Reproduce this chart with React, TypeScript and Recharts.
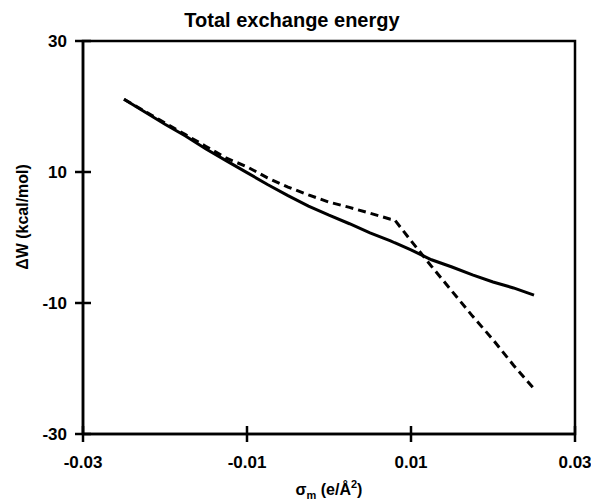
import React from 'react';
import { LineChart, Line, XAxis, YAxis, ReferenceArea } from 'recharts';

const sigma = [-0.025, -0.0225, -0.02, -0.0175, -0.015, -0.0125, -0.01, -0.0075, -0.005, -0.0025, 0, 0.0025, 0.005, 0.0075, 0.008, 0.01, 0.0125, 0.015, 0.0175, 0.02, 0.0225, 0.025];
const solidW = [21.1, 19.2, 17.3, 15.5, 13.5, 11.7, 9.9, 8.1, 6.4, 4.8, 3.4, 2.1, 0.7, -0.5, -0.8, -1.9, -3.4, -4.5, -5.7, -6.8, -7.7, -8.8];
const dashedW = [21.1, 19.3, 17.5, 15.7, 13.9, 12.1, 10.8, 9.1, 7.7, 6.5, 5.4, 4.6, 3.7, 2.8, 2.7, -0.5, -4.4, -8.2, -12.0, -15.6, -19.5, -23.1];
const xTicks = [-0.03, -0.01, 0.01, 0.03];
const yTicks = [-30, -10, 10, 30];

const data = sigma.map((s, i) => ({ x: s, solid: solidW[i], dashed: dashedW[i] }));

const FONT = '"Liberation Sans", Arial, Helvetica, sans-serif';
const Y_AXIS_W = 60;
const X_AXIS_H = 40;

const renderYTick = (props: any) => {
  const { y, payload } = props;
  const ax = 83;
  return (
    <g key={`yt-${payload.value}`}>
      <line x1={ax - 8} x2={ax + 8} y1={y} y2={y} stroke="#000" strokeWidth={2.5} />
      <text x={ax - 16} y={y} dy={6} textAnchor="end" fontFamily={FONT} fontWeight="bold" fontSize={17} fill="#000">
        {String(payload.value)}
      </text>
    </g>
  );
};

const renderXTick = (props: any) => {
  const { x, payload } = props;
  const ay = 434;
  return (
    <g key={`xt-${payload.value}`}>
      <line x1={x} x2={x} y1={ay - 8} y2={ay + 8} stroke="#000" strokeWidth={2.5} />
      <text x={x} y={ay + 34} textAnchor="middle" fontFamily={FONT} fontWeight="bold" fontSize={17} fill="#000">
        {Number(payload.value).toFixed(2)}
      </text>
    </g>
  );
};

export default function App() {
  return (
    <div style={{ position: 'absolute', left: 0, top: 0, width: 591, height: 500, background: '#fff' }}>
      <LineChart width={591} height={500} data={data} margin={{ top: 41, right: 16, bottom: 66 - X_AXIS_H, left: 83 - Y_AXIS_W }}>
        <XAxis
          dataKey="x"
          type="number"
          domain={[-0.03, 0.03]}
          ticks={xTicks}
          allowDataOverflow
          height={X_AXIS_H}
          tickLine={false}
          axisLine={{ stroke: '#000', strokeWidth: 2.5 }}
          tick={renderXTick}
          interval={0}
        />
        <YAxis
          type="number"
          domain={[-30, 30]}
          ticks={yTicks}
          allowDataOverflow
          width={Y_AXIS_W}
          tickLine={false}
          axisLine={{ stroke: '#000', strokeWidth: 2.5 }}
          tick={renderYTick}
          interval={0}
        />
        <ReferenceArea x1={-0.03} x2={0.03} y1={-30} y2={30} fill="none" stroke="#000" strokeWidth={2.5} ifOverflow="visible" />
        <Line dataKey="solid" type="linear" stroke="#000" strokeWidth={3} dot={false} isAnimationActive={false} />
        <Line dataKey="dashed" type="linear" stroke="#000" strokeWidth={3} strokeDasharray="8 5" dot={false} isAnimationActive={false} />
      </LineChart>
      <svg width={591} height={500} style={{ position: 'absolute', left: 0, top: 0, pointerEvents: 'none' }}>
        <text x={292} y={27} textAnchor="middle" fontFamily={FONT} fontWeight="bold" fontSize={20} fill="#000">
          Total exchange energy
        </text>
        <text
          transform="translate(28,217) rotate(-90)"
          textAnchor="middle"
          fontFamily={FONT}
          fontWeight="bold"
          fontSize={16}
          fill="#000"
        >
          ΔW (kcal/mol)
        </text>
        <text x={329} y={495} textAnchor="middle" fontFamily={FONT} fontWeight="bold" fontSize={16} fill="#000">
          σ<tspan fontSize={11} dy={4}>m</tspan>
          <tspan dy={-4}> (e/Å</tspan>
          <tspan fontSize={11} dy={-7}>2</tspan>
          <tspan dy={7}>)</tspan>
        </text>
      </svg>
    </div>
  );
}
